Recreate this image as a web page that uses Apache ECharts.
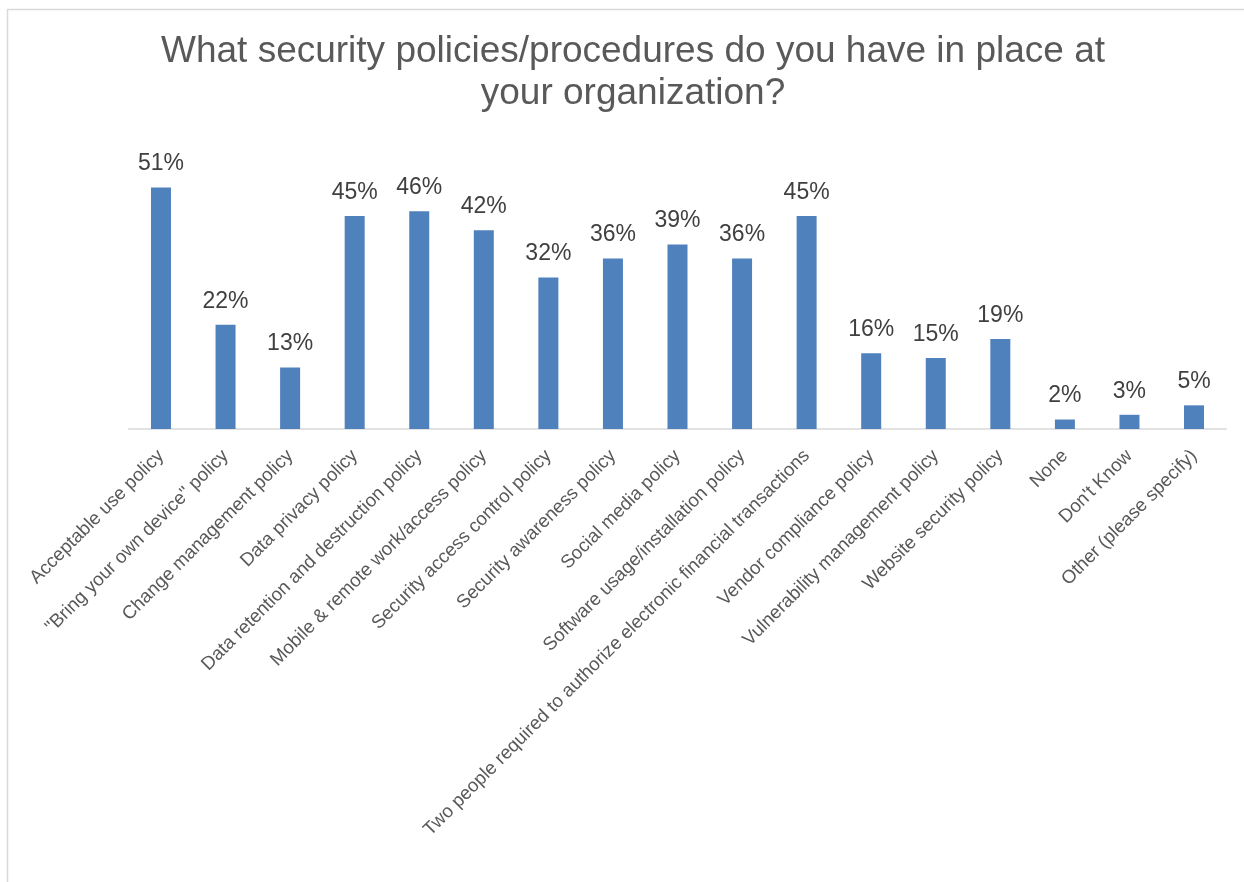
<!DOCTYPE html>
<html>
<head>
<meta charset="utf-8">
<script src="https://cdn.jsdelivr.net/npm/echarts@6/dist/echarts.min.js"></script>
<style>
  html, body { margin: 0; padding: 0; background: #ffffff; }
  #chart { width: 1244px; height: 882px; }
</style>
</head>
<body>
<div id="chart"></div>
<script>
// Survey answers: share of respondents with each policy in place (%)
const categories = [
  'Acceptable use policy',
  '"Bring your own device" policy',
  'Change management policy',
  'Data privacy policy',
  'Data retention and destruction policy',
  'Mobile & remote work/access policy',
  'Security access control policy',
  'Security awareness policy',
  'Social media policy',
  'Software usage/installation policy',
  'Two people required to authorize electronic financial transactions',
  'Vendor compliance policy',
  'Vulnerability management policy',
  'Website security policy',
  'None',
  "Don't Know",
  'Other (please specify)'
];
const shares = [51, 22, 13, 45, 46, 42, 32, 36, 39, 36, 45, 16, 15, 19, 2, 3, 5];
const titleText = 'What security policies/procedures do you have in place at\nyour organization?';

const FONT = '"Liberation Sans", Arial, sans-serif';
const chart = echarts.init(document.getElementById('chart'), null, { renderer: 'canvas' });

chart.setOption({
  backgroundColor: '#ffffff',
  animation: false,
  title: {
    text: titleText,
    left: 633,
    top: 31,
    padding: 0,
    textAlign: 'center',
    textStyle: {
      fontFamily: FONT,
      fontSize: 37,
      fontWeight: 'normal',
      color: '#595959',
      lineHeight: 42
    }
  },
  graphic: [{
    type: 'rect',
    silent: true,
    shape: { x: 7.5, y: 9.5, width: 1400, height: 1000 },
    style: { fill: 'none', stroke: '#d9d9d9', lineWidth: 1.5 }
  }],
  grid: {
    left: 128.7,
    right: 17.7,
    top: 145,
    bottom: 453,
    containLabel: false
  },
  xAxis: {
    type: 'category',
    data: categories,
    axisLine: { lineStyle: { color: '#d9d9d9', width: 1.5 } },
    axisTick: { show: false },
    axisLabel: {
      interval: 0,
      rotate: 45,
      margin: 24,
      fontFamily: FONT,
      fontSize: 18.7,
      color: '#595959'
    }
  },
  yAxis: {
    type: 'value',
    min: 0,
    max: 60,
    show: false,
    splitLine: { show: false }
  },
  series: [{
    type: 'bar',
    data: shares,
    barWidth: 20,
    itemStyle: { color: '#4f81bd' },
    label: {
      show: true,
      position: 'top',
      distance: 12,
      formatter: p => p.value + '%',
      fontFamily: FONT,
      fontSize: 23,
      color: '#404040'
    }
  }]
});
</script>
</body>
</html>
